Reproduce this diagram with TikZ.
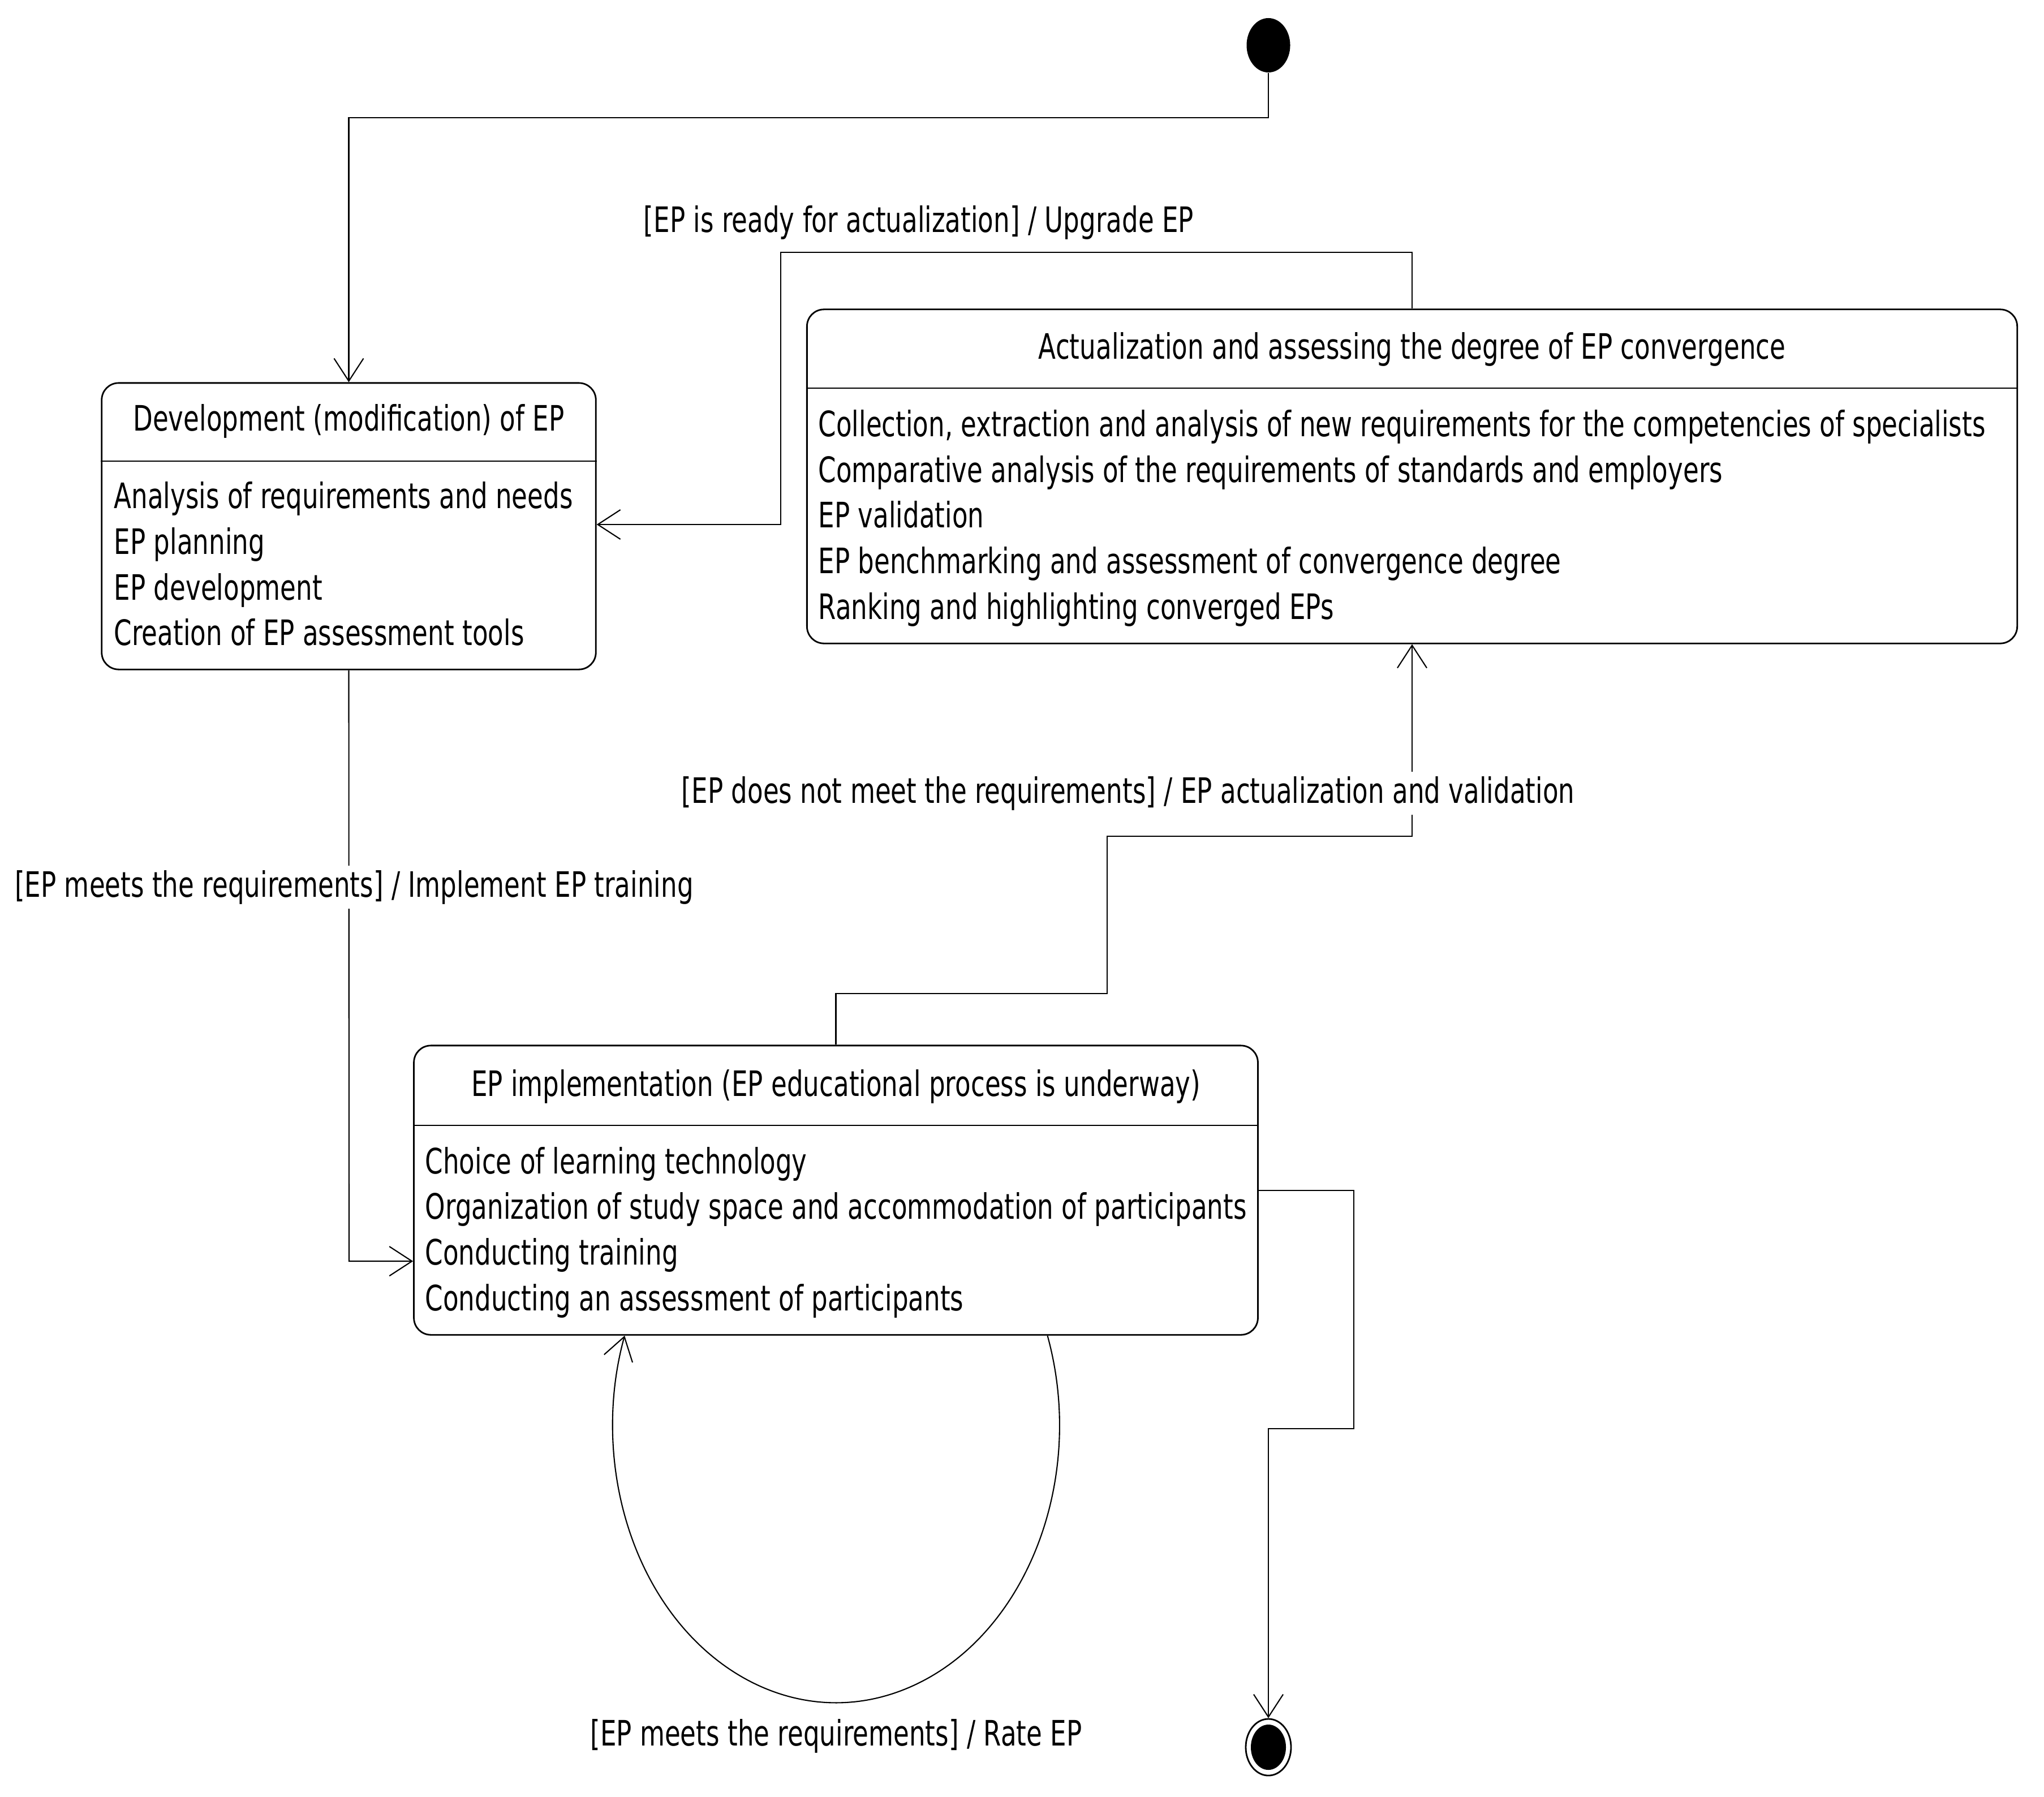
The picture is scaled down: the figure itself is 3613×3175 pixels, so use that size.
\documentclass[tikz,border=0pt]{standalone}
\usepackage{fontspec}
\newfontfamily\cadfont{DejaVu Sans}[FakeStretch=0.73]
\usetikzlibrary{arrows.meta,shapes.geometric,calc}
\begin{document}
\begin{tikzpicture}[x=0.01cm,y=-0.01cm,
  statebox/.style={draw, line width=0.8pt, rounded corners=0.3cm, inner sep=0, rectangle},
  sepline/.style={line width=0.8pt},
  conn/.style={line width=0.6pt},
  arr/.style={conn, -{Straight Barb[length=0.4cm,width=0.52cm]}},
  txt/.style={inner sep=0, font=\cadfont\fontsize{17.6pt}{21pt}\selectfont},
  lbl/.style={txt, fill=white, inner sep=0.08cm}]
\useasboundingbox (0,0) rectangle (3613,3175);

% initial and final states
\node[ellipse, fill, inner sep=0, minimum width=0.77cm, minimum height=0.96cm] (start) at (2242,80) {};
\node[ellipse, draw, line width=0.8pt, inner sep=0, minimum width=0.8cm, minimum height=1.0cm] (final) at (2242,3088) {};
\node[ellipse, fill, inner sep=0, minimum width=0.62cm, minimum height=0.8cm] (finalin) at (final.center) {};

% state boxes
\node[statebox, minimum width=8.73cm, minimum height=5.06cm] (dev) at (616.5,930) {};
\node[statebox, minimum width=21.38cm, minimum height=5.90cm] (act) at (2496,842) {};
\node[statebox, minimum width=14.91cm, minimum height=5.11cm] (impl) at (1477.5,2103.5) {};

\coordinate (s1) at (0,815);
\coordinate (s2) at (0,686);
\coordinate (s3) at (0,1989);
\draw[sepline] (dev.west |- s1) -- (dev.east |- s1);
\draw[sepline] (act.west |- s2) -- (act.east |- s2);
\draw[sepline] (impl.west |- s3) -- (impl.east |- s3);

% titles
\node[txt] (devt) at (616.5,744) {Development (modification) of EP};
\node[txt] (actt) at (2496,617) {Actualization and assessing the degree of EP convergence};
\node[txt] (implt) at (1477.5,1920) {EP implementation (EP educational process is underway)};

% items
\node[txt, anchor=base west] (d1) at (201,898) {Analysis of requirements and needs};
\node[txt, anchor=base west] (d2) at (201,979) {EP planning};
\node[txt, anchor=base west] (d3) at (201,1060) {EP development};
\node[txt, anchor=base west] (d4) at (201,1140) {Creation of EP assessment tools};

\node[txt, anchor=base west] (a1) at (1446,771) {Collection, extraction and analysis of new requirements for the competencies of specialists};
\node[txt, anchor=base west] (a2) at (1446,852) {Comparative analysis of the requirements of standards and employers};
\node[txt, anchor=base west] (a3) at (1446,932) {EP validation};
\node[txt, anchor=base west] (a4) at (1446,1013) {EP benchmarking and assessment of convergence degree};
\node[txt, anchor=base west] (a5) at (1446,1094) {Ranking and highlighting converged EPs};

\node[txt, anchor=base west] (i1) at (751,2074) {Choice of learning technology};
\node[txt, anchor=base west] (i2) at (751,2154) {Organization of study space and accommodation of participants};
\node[txt, anchor=base west] (i3) at (751,2235) {Conducting training};
\node[txt, anchor=base west] (i4) at (751,2316) {Conducting an assessment of participants};

% connectors
\coordinate (c1) at (2242,208);
\draw[arr] (start.south) -- (c1) -| (dev.north);

\coordinate (c2) at (1380,446);
\coordinate (c3) at (1380,927);
\draw[arr] (act.north) |- (c2) -- (c3) -- (dev.east |- c3);

\coordinate (c4) at (617,2229);
\draw[arr] (dev.south) -- (c4) -- (impl.west |- c4);

\coordinate (c5) at (1957,1756);
\coordinate (c6) at (1957,1478);
\draw[arr] (impl.north) |- (c5) -- (c6) -| (act.south);

\coordinate (c7) at (2393,2104);
\coordinate (c8) at (2393,2525);
\coordinate (c9) at (2242,2525);
\draw[arr] (impl.east |- c7) -- (c7) -- (c8) -- (c9) -- (final.north);

\coordinate (loopstart) at ($(impl.south)+(374,0)$);
\draw[arr] (loopstart) arc[start angle=-18.9, end angle=198.9, x radius=395, y radius=490];

% transition labels
\node[lbl] (l1) at (1624,393) {[EP is ready for actualization] / Upgrade EP};
\node[lbl] (l2) at (626,1568) {[EP meets the requirements] / Implement EP training};
\node[lbl] (l3) at (1994,1402) {[EP does not meet the requirements] / EP actualization and validation};
\node[lbl] (l4) at (1478,3068) {[EP meets the requirements] / Rate EP};
\end{tikzpicture}
\end{document}
